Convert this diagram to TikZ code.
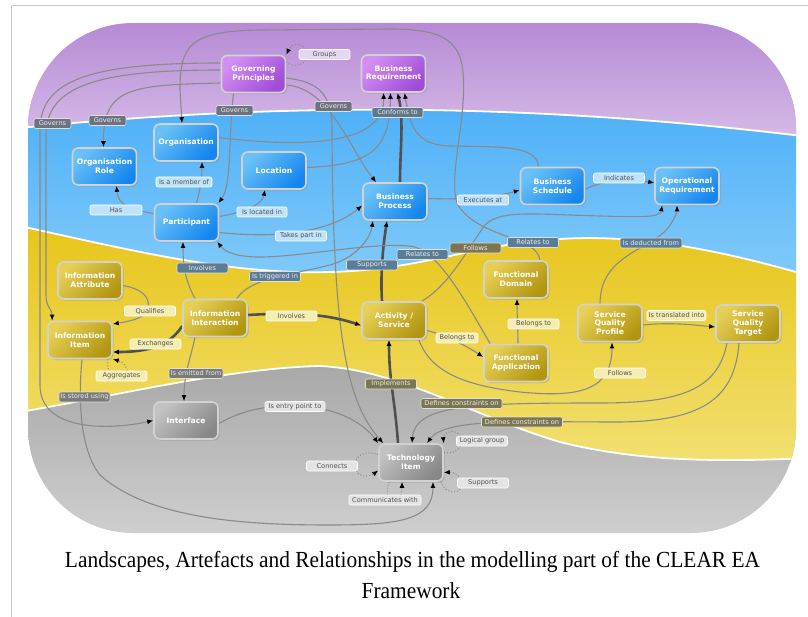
\documentclass[tikz,border=0pt]{standalone}
\usepackage{fontspec}
\usepackage{graphicx}
\usetikzlibrary{arrows.meta,calc,shadows}
\newfontfamily\dv{DejaVu Sans}
\newfontfamily\capfont{Liberation Serif}

% band colours
\definecolor{frameGray}{HTML}{C8C8C8}
\definecolor{pTop}{HTML}{B589D5}
\definecolor{pBot}{HTML}{D6BAE7}
\definecolor{bTop}{HTML}{4DAFF7}
\definecolor{bBot}{HTML}{80CAFA}
\definecolor{yTop}{HTML}{E7C51A}
\definecolor{yBot}{HTML}{F2E070}
\definecolor{gTop}{HTML}{A7A7A7}
\definecolor{gBot}{HTML}{D0D0D0}
% box colours
\definecolor{npA}{HTML}{D28FF2}\definecolor{npB}{HTML}{A04CD8}
\definecolor{nbA}{HTML}{6AC1F7}\definecolor{nbB}{HTML}{1486EE}
\definecolor{nyA}{HTML}{E6CF55}\definecolor{nyB}{HTML}{B29610}
\definecolor{ngA}{HTML}{C2C2C2}\definecolor{ngB}{HTML}{878787}
\definecolor{boxEdge}{HTML}{D2D2D2}
\definecolor{edgeGray}{HTML}{8A8A8A}
\definecolor{heavyGray}{HTML}{505050}
% relation label colours
\definecolor{lP}{HTML}{E6D6EF}
\definecolor{lB}{HTML}{BEE3FB}
\definecolor{lY}{HTML}{F6EDB3}
\definecolor{lG}{HTML}{E4E4E4}
\definecolor{dP}{HTML}{6C7280}
\definecolor{dC}{HTML}{5F778A}
\definecolor{dB}{HTML}{5B7C95}
\definecolor{dY}{HTML}{7C7551}
\definecolor{dG}{HTML}{7A7A78}
\definecolor{lblText}{HTML}{505050}

\pgfdeclarelayer{bands}
\pgfdeclarelayer{links}
\pgfsetlayers{bands,links,main}

\begin{document}
\begin{tikzpicture}[x=1pt,y=-1pt,
  nbox/.style={rounded corners=6pt, draw=boxEdge, line width=1.6pt,
    minimum width=64pt, minimum height=37pt, inner sep=1pt, align=center,
    text=white, font={\fontsize{7.6}{8.8}\dv\bfseries},
    drop shadow={opacity=0.35, shadow xshift=1.6pt, shadow yshift=-1.6pt}},
  boxP/.style={nbox, top color=npA, bottom color=npB, shading angle=45},
  boxB/.style={nbox, top color=nbA, bottom color=nbB, shading angle=45},
  boxY/.style={nbox, top color=nyA, bottom color=nyB, shading angle=45},
  boxG/.style={nbox, top color=ngA, bottom color=ngB, shading angle=45},
  lbl/.style={rounded corners=2pt, draw=white, line width=0.6pt, inner sep=0.8pt,
    minimum height=10pt, minimum width=51pt, text=lblText,
    font={\fontsize{6.6}{7.5}\dv}},
  dk/.style={text=white!93!black, draw=white!75!gray},
  conn/.style={draw=edgeGray, line width=1.1pt},
  heavy/.style={draw=heavyGray, line width=2.6pt},
  loopline/.style={draw=edgeGray, line width=1pt, dotted},
  arr/.style={-{Latex[length=6pt,width=5pt,color=black]}},
]
\useasboundingbox (0,0) rectangle (808,617);

% page frame
\draw[frameGray, line width=1pt] (11,617) -- (11,6) -- (808,6);

% ---------- landscape bands ----------
\begin{pgfonlayer}{bands}
\begin{scope}
\clip[rounded corners=105pt] (28,23) rectangle (796,533);
\shade[top color=gTop,bottom color=gBot] (20,360) rectangle (810,540);
\shade[top color=yTop,bottom color=yBot] (20,224) -- (20,412)
  .. controls (120,395) and (230,368) .. (320,366)
  .. controls (400,370) and (470,415) .. (560,442)
  .. controls (640,462) and (720,462) .. (810,458) -- (810,224) -- cycle;
\shade[top color=bTop,bottom color=bBot] (20,100) -- (20,226)
  .. controls (130,250) and (230,275) .. (330,272)
  .. controls (420,270) and (470,245) .. (560,239)
  .. controls (640,234) and (720,250) .. (810,276) -- (810,100) -- cycle;
\shade[top color=pTop,bottom color=pBot] (20,20) -- (20,128)
  .. controls (300,100) and (550,105) .. (810,137) -- (810,20) -- cycle;
\draw[white, line width=1.8pt] (20,128) .. controls (300,100) and (550,105) .. (810,137);
\draw[white, line width=1.8pt] (20,226)
  .. controls (130,250) and (230,275) .. (330,272)
  .. controls (420,270) and (470,245) .. (560,239)
  .. controls (640,234) and (720,250) .. (810,276);
\draw[white, line width=1.8pt] (20,412)
  .. controls (120,395) and (230,368) .. (320,366)
  .. controls (400,370) and (470,415) .. (560,442)
  .. controls (640,462) and (720,462) .. (810,458);
\end{scope}
\end{pgfonlayer}

% ---------- artefacts ----------
\node[boxP] (gp)    at (253.5,74)  {Governing\\Principles};
\node[boxP] (br)    at (393.5,73.5){Business\\Requirement};
\node[boxB] (org)   at (186,142.5) {Organisation};
\node[boxB] (orole) at (104.5,166.5){Organisation\\Role};
\node[boxB] (loc)   at (274,170.5) {Location};
\node[boxB] (part)  at (186.5,222.5){Participant};
\node[boxB] (bp)    at (395,201.5) {Business\\Process};
\node[boxB] (bs)    at (552.5,186) {Business\\Schedule};
\node[boxB] (opr)   at (687,186)   {Operational\\Requirement};
\node[boxY] (iattr) at (90,280.5)  {Information\\Attribute};
\node[boxY] (iitem) at (80,340)    {Information\\Item};
\node[boxY] (iint)  at (215,318)   {Information\\Interaction};
\node[boxY] (act)   at (394,320.5) {Activity /\\Service};
\node[boxY] (fdom)  at (516,279.5) {Functional\\Domain};
\node[boxY] (fapp)  at (516,363)   {Functional\\Application};
\node[boxY] (sqp)   at (610,323)   {Service\\Quality\\Profile};
\node[boxY] (sqt)   at (748,323.5) {Service\\Quality\\Target};
\node[boxG] (intf)  at (186,420.5) {Interface};
\node[boxG] (ti)    at (411,462.5) {Technology\\Item};

% ---------- relationships ----------
\begin{pgfonlayer}{links}
% Governing Principles
\draw[conn,arr] ($(gp.west)+(0,-11)$) .. controls (90,63) and (40,80) .. (40,130)
  -- (40,385) .. controls (40,432) and (110,430) .. (intf.west);
\draw[conn,arr] ($(gp.west)+(0,-4)$) .. controls (100,70) and (46,85) .. (46,135)
  -- (46,295) .. controls (46,308) and (52,308) .. ($(iitem.north west)+(5,0)$);
\draw[conn,arr] ($(gp.west)+(0,9)$) .. controls (130,85) and (103,88) .. ($(orole.north)+(-1,0)$);
\draw[conn,arr] ($(gp.south)+(-20,0)$) .. controls (228,140) and (232,185) .. ($(part.north east)+(-1,0)$);
\draw[conn,arr] ($(gp.east)+(0,11)$) .. controls (330,88) and (350,150) .. ($(bp.north west)+(14,0)$);
\draw[conn,arr] ($(gp.east)+(0,4)$) .. controls (320,82) and (332,95) .. (332,130)
  .. controls (333,330) and (345,400) .. ($(ti.north west)+(5,0)$);
\draw[loopline,arr] ($(gp.east)+(0,-12)$) .. controls (293,68) and (307,66) .. (307,55)
  .. controls (307,44) and (293,40) .. (gp.north east);
% Functional Domain to Organisation
\draw[conn,arr] ($(fdom.north east)+(-9,0)$) .. controls (538,236) and (478,238) .. (458,205)
  .. controls (446,180) and (470,110) .. (462,65)
  .. controls (457,35) and (430,29) .. (390,29) -- (260,30)
  .. controls (190,31) and (180,45) .. (180,90) -- ($(org.north)+(-4,0)$);
% into Business Requirement
\draw[conn,arr] ($(org.east)+(0,-5)$) .. controls (320,150) and (385,140) .. ($(br.south)+(-10,0)$);
\draw[conn,arr] ($(loc.east)+(0,-3)$) .. controls (370,165) and (390,150) .. ($(br.south)+(-3,0)$);
\draw[heavy,arr] ($(bp.north)+(5,0)$) .. controls (400,150) and (404,120) .. ($(br.south)+(4,0)$);
\draw[conn,arr] ($(bs.north)+(-14,0)$) .. controls (537,145) and (500,147) .. (450,146)
  .. controls (415,145) and (410,125) .. ($(br.south)+(11,0)$);
% Participant
\draw[conn,arr] ($(part.north)+(10,0)$) .. controls (200,190) and (202,180) .. ($(org.south)+(16,0)$);
\draw[conn,arr] ($(part.west)+(0,-9)$) .. controls (130,210) and (118,205) .. ($(orole.south)+(12,0)$);
\draw[conn,arr] ($(part.east)+(0,-6)$) .. controls (245,212) and (262,205) .. ($(loc.south)+(-9,0)$);
\draw[conn,arr] ($(part.east)+(0,10)$) .. controls (290,240) and (335,228) .. ($(bp.west)+(0,4)$);
% process and schedule
\draw[conn,arr] ($(bp.east)+(0,-3)$) .. controls (470,200) and (500,196) .. ($(bs.west)+(0,4)$);
\draw[conn,arr] ($(bs.east)+(0,3)$) .. controls (605,180) and (630,178) .. ($(opr.west)+(0,-3)$);
\draw[conn,arr] ($(act.north east)+(-5,0)$) .. controls (450,285) and (470,245) .. (485,225)
  .. controls (500,210) and (530,214) .. (600,216)
  .. controls (640,217) and (660,218) .. ($(opr.south west)+(8,0)$);
\draw[conn,arr] ($(sqp.north)+(-10,0)$) .. controls (600,255) and (650,250) .. (668,228)
  .. controls (674,220) and (677,212) .. ($(opr.south)+(-10,0)$);
% Information Interaction
\draw[conn,arr] ($(iint.north)+(-20,0)$) .. controls (185,280) and (183,265) .. ($(part.south)+(-3.5,0)$);
\draw[conn,arr] ($(iint.north east)+(-11,0)$) .. controls (250,278) and (290,275) .. (330,265)
  .. controls (355,258) and (370,240) .. ($(bp.south)+(-22,0)$);
\draw[heavy,arr] ($(act.north)+(-12,0)$) .. controls (380,270) and (384,240) .. ($(bp.south)+(-8,0)$);
\draw[conn,arr] ($(fapp.north west)+(7,0)$) .. controls (465,300) and (440,255) .. (415,247)
  .. controls (380,240) and (300,258) .. (255,257)
  .. controls (235,256) and (225,252) .. ($(part.south east)+(-2,0)$);
\draw[heavy,arr] ($(iint.east)+(0,-3)$) .. controls (300,312) and (330,315) .. ($(act.west)+(0,5)$);
\draw[heavy,arr] ($(iint.west)+(0,8)$) .. controls (170,345) and (150,352) .. ($(iitem.east)+(0,12)$);
\draw[conn,arr] ($(iattr.east)+(0,5)$) .. controls (150,290) and (152,305) .. (145,314)
  .. controls (138,320) and (125,322) .. ($(iitem.east)+(0,-16)$);
\draw[loopline,arr] ($(iitem.south east)+(-5,0)$) .. controls (106,385) and (128,383) .. (127,370)
  .. controls (126,364) and (120,361) .. (iitem.south east);
\draw[conn,arr] ($(iint.south)+(-20,0)$) .. controls (190,360) and (184,375) .. ($(intf.north)+(-2,0)$);
% technology layer
\draw[conn,arr] ($(iitem.south)+(2,0)$) .. controls (78,400) and (80,450) .. (100,475)
  .. controls (150,520) and (250,525) .. (330,525)
  .. controls (400,525) and (433,520) .. ($(ti.south)+(22,0)$);
\draw[conn,arr] ($(intf.east)+(0,3)$) .. controls (240,412) and (260,405) .. (300,406)
  .. controls (340,408) and (365,425) .. (ti.north west);
\draw[heavy,arr] ($(ti.north)+(-13,0)$) .. controls (395,400) and (389,380) .. ($(act.south)+(-5,0)$);
\draw[conn,arr] ($(sqt.south)+(-21,0)$) .. controls (718,390) and (680,403) .. (600,403)
  .. controls (470,403) and (415,405) .. ($(ti.north)+(1,0)$);
\draw[conn,arr] ($(sqt.south)+(-9,0)$) .. controls (735,400) and (700,421) .. (620,422)
  .. controls (520,422) and (445,418) .. ($(ti.north)+(16,0)$);
\draw[loopline,arr] ($(ti.east)+(0,-10)$) .. controls (462,456) and (468,436) .. (455,432)
  .. controls (447,430) and (443,436) .. (ti.north east);
\draw[loopline,arr] ($(ti.west)+(0,-8)$) .. controls (365,450) and (355,455) .. (355,466)
  .. controls (355,477) and (368,478) .. ($(ti.west)+(0,8)$);
\draw[loopline,arr] ($(ti.south east)+(-3,0)$) .. controls (445,495) and (462,495) .. (462,484)
  .. controls (462,476) and (455,472) .. ($(ti.east)+(0,10)$);
\draw[loopline,arr] ($(ti.south)+(-22,0)$) .. controls (385,495) and (388,505) .. (395,503)
  .. controls (400,500) and (402,492) .. ($(ti.south)+(-9,0)$);
% activity / service
\draw[conn,arr] ($(act.east)+(0,10)$) .. controls (445,335) and (465,345) .. ($(fapp.west)+(0,-6)$);
\draw[conn,arr] ($(fapp.north)+(2,0)$) .. controls (518,330) and (517,315) .. ($(fdom.south)+(1,0)$);
\draw[conn,arr] ($(act.south east)+(-8,0)$) .. controls (430,370) and (460,385) .. (520,392)
  .. controls (580,398) and (612,390) .. ($(sqp.south)+(2,0)$);
\draw[conn,arr] ($(sqp.east)+(0,2)$) .. controls (670,322) and (695,325) .. ($(sqt.west)+(0,3.5)$);
\end{pgfonlayer}

% ---------- relationship labels ----------
\node[lbl,fill=lP] (lgroups) at (324.5,54.5) {Groups};
\node[lbl,dk,fill=dP,minimum width=37pt] (lgov1) at (52.5,123.5) {Governs};
\node[lbl,dk,fill=dP,minimum width=37pt] (lgov2) at (107.5,120.5) {Governs};
\node[lbl,dk,fill=dP,minimum width=37pt] (lgov3) at (234.5,110.5) {Governs};
\node[lbl,dk,fill=dP,minimum width=37pt] (lgov4) at (333.5,106.5) {Governs};
\node[lbl,dk,fill=dC] (lconf) at (397.5,112.5) {Conforms to};
\node[lbl,fill=lB,minimum width=56pt] (lmember) at (184,182) {Is a member of};
\node[lbl,fill=lB,minimum width=52pt] (lhas) at (116,210) {Has};
\node[lbl,fill=lB,minimum width=50pt] (llocated) at (262,212) {Is located in};
\node[lbl,fill=lB] (ltakes) at (301,236) {Takes part in};
\node[lbl,fill=lB] (lexec) at (483,200) {Executes at};
\node[lbl,fill=lB] (lind) at (619,178) {Indicates};
\node[lbl,dk,fill=dB] (lsupp) at (372,265) {Supports};
\node[lbl,dk,fill=dB] (linvp) at (202.5,268) {Involves};
\node[lbl,dk,fill=dB] (ltrig) at (275,276.5) {Is triggered in};
\node[lbl,dk,fill=dB] (lrel1) at (422.5,254.5) {Relates to};
\node[lbl,dk,fill=dY] (lfol1) at (475.5,248) {Follows};
\node[lbl,dk,fill=dB] (lrel2) at (533,242.5) {Relates to};
\node[lbl,dk,fill=dB,minimum width=62pt] (lded) at (651,243) {Is deducted from};
\node[lbl,fill=lY] (lqual) at (150,311) {Qualifies};
\node[lbl,fill=lY] (lexch) at (155.5,344) {Exchanges};
\node[lbl,fill=lY] (linva) at (291.5,316) {Involves};
\node[lbl,fill=lY] (lagg) at (121.5,376) {Aggregates};
\node[lbl,fill=lY,minimum width=42pt] (lbel1) at (457,338) {Belongs to};
\node[lbl,fill=lY] (lbel2) at (533.5,324) {Belongs to};
\node[lbl,fill=lY,minimum width=59pt] (ltrans) at (676.5,315.5) {Is translated into};
\node[lbl,fill=lY] (lfol2) at (620,373) {Follows};
\node[lbl,dk,fill=dG,minimum width=54pt] (lemit) at (196,373.5) {Is emitted from};
\node[lbl,dk,fill=dG] (lstore) at (84.5,397) {Is stored using};
\node[lbl,dk,fill=dY] (limpl) at (391,384) {Implements};
\node[lbl,fill=lG,minimum width=60pt] (lentry) at (295,406.5) {Is entry point to};
\node[lbl,dk,fill=dY,minimum width=81pt] (ldef1) at (461.5,403.5) {Defines constraints on};
\node[lbl,dk,fill=dY,minimum width=81pt] (ldef2) at (522,422) {Defines constraints on};
\node[lbl,fill=lG] (llog) at (482,441) {Logical group};
\node[lbl,fill=lG] (lconn) at (332,466) {Connects};
\node[lbl,fill=lG] (lsupt) at (483,483) {Supports};
\node[lbl,fill=lG,minimum width=72pt] (lcomm) at (385,500) {Communicates with};

% ---------- caption ----------
\node[anchor=base, inner sep=0pt, font={\fontsize{23}{28}\capfont}] (cap1) at (412.5,567)
  {\scalebox{0.93}[1]{Landscapes, Artefacts and Relationships in the modelling part of the CLEAR EA}};
\node[anchor=base, inner sep=0pt, font={\fontsize{23}{28}\capfont}] (cap2) at (411,598)
  {\scalebox{0.93}[1]{Framework}};
\end{tikzpicture}
\end{document}
